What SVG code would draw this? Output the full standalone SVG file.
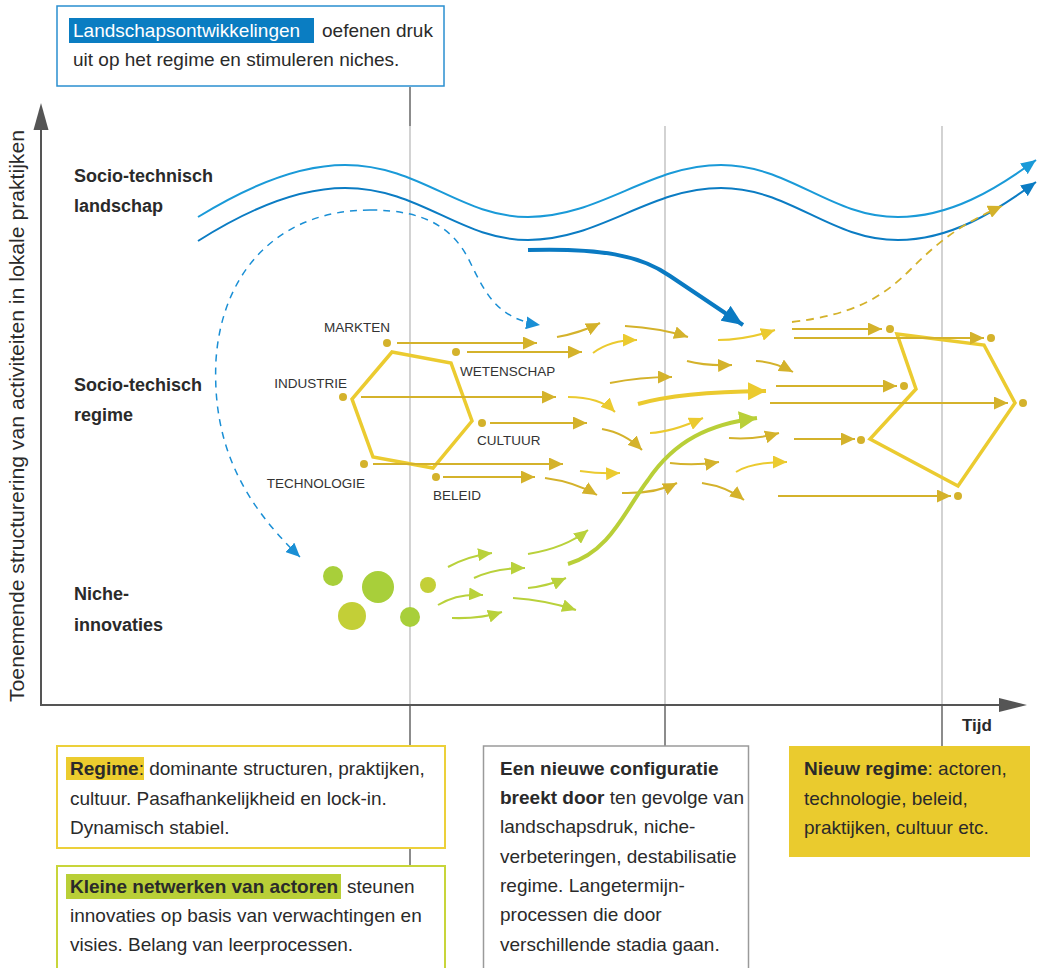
<svg xmlns="http://www.w3.org/2000/svg" width="1040" height="968" viewBox="0 0 1040 968">
<style>
text{font-family:"Liberation Sans",Arial,sans-serif;fill:#2a2a2a}
.b{font-weight:bold}
.t19{font-size:19px}
.lab{font-size:18px;font-weight:bold}
.cap{font-size:13.5px;fill:#333}
.d{fill:none;stroke:#d4b22b;stroke-width:2}
.l{fill:none;stroke:#ebca2f;stroke-width:2}
.g{fill:none;stroke:#b9d13b;stroke-width:2}
.dot{fill:#d4b22b}
.grid{stroke:#b5b5b5;stroke-width:1.2}
.tick{stroke:#666;stroke-width:1.5}
</style>
<defs>
<marker id="mD" markerUnits="userSpaceOnUse" markerWidth="14" markerHeight="13" refX="14" refY="6.5" orient="auto"><path d="M0,0L14,6.5L0,13z" fill="#d4b22b"/></marker>
<marker id="mL" markerUnits="userSpaceOnUse" markerWidth="14" markerHeight="13" refX="14" refY="6.5" orient="auto"><path d="M0,0L14,6.5L0,13z" fill="#ebca2f"/></marker>
<marker id="mG" markerUnits="userSpaceOnUse" markerWidth="14" markerHeight="13" refX="14" refY="6.5" orient="auto"><path d="M0,0L14,6.5L0,13z" fill="#b9d13b"/></marker>
<marker id="mB1" markerUnits="userSpaceOnUse" markerWidth="15" markerHeight="13" refX="15" refY="6.5" orient="auto"><path d="M0,0L15,6.5L0,13z" fill="#1a9ad8"/></marker>
<marker id="mB2" markerUnits="userSpaceOnUse" markerWidth="15" markerHeight="13" refX="15" refY="6.5" orient="auto"><path d="M0,0L15,6.5L0,13z" fill="#0b7cc3"/></marker>
<marker id="mBig" markerUnits="userSpaceOnUse" markerWidth="21" markerHeight="18" refX="21" refY="9" orient="auto"><path d="M0,0L21,9L0,18z" fill="#0a7ac2"/></marker>
<marker id="mY" markerUnits="userSpaceOnUse" markerWidth="18" markerHeight="18" refX="18" refY="9" orient="auto"><path d="M0,0L18,9L0,18z" fill="#ebca2f"/></marker>
<marker id="mGG" markerUnits="userSpaceOnUse" markerWidth="18" markerHeight="18" refX="18" refY="9" orient="auto"><path d="M0,0L18,9L0,18z" fill="#b9cf38"/></marker>
<marker id="mDash" markerUnits="userSpaceOnUse" markerWidth="14" markerHeight="13" refX="14" refY="6.5" orient="auto"><path d="M0,0L14,6.5L0,13z" fill="#1a8fd5"/></marker>
</defs>
<rect width="1040" height="968" fill="#fff"/>

<g id="grid">
<line class="tick" x1="410" y1="87" x2="410" y2="126"/>
<line class="grid" x1="410" y1="126" x2="410" y2="705"/>
<line class="tick" x1="410" y1="705" x2="410" y2="746"/>
<line class="tick" x1="410" y1="848" x2="410" y2="866"/>
<line class="grid" x1="665" y1="126" x2="665" y2="705"/>
<line class="tick" x1="665" y1="705" x2="665" y2="746"/>
<line class="grid" x1="942" y1="126" x2="942" y2="705"/>
<line class="tick" x1="942" y1="705" x2="942" y2="746"/>
</g>

<g id="axes">
<line x1="41" y1="128" x2="41" y2="706" stroke="#555" stroke-width="2"/>
<polygon points="41,103 48.5,130 33.5,130" fill="#555"/>
<line x1="40" y1="705" x2="1001" y2="705" stroke="#555" stroke-width="2"/>
<polygon points="1027,705 999,698 999,712" fill="#555"/>
<text transform="translate(24,416) rotate(-90)" text-anchor="middle" font-size="20" textLength="572" lengthAdjust="spacingAndGlyphs" fill="#333">Toenemende structurering van activiteiten in lokale praktijken</text>
<text x="962" y="731" class="b" font-size="17">Tijd</text>
</g>

<g id="level-labels">
<text class="lab" x="74" y="182">Socio-technisch</text>
<text class="lab" x="74" y="212">landschap</text>
<text class="lab" x="74" y="391">Socio-techisch</text>
<text class="lab" x="74" y="421">regime</text>
<text class="lab" x="74" y="600">Niche-</text>
<text class="lab" x="74" y="631">innovaties</text>
</g>

<g id="landscape">
<path d="M198,217 C250,185 300,165 345,165 C420,165 460,217 528,217 C600,217 650,165 721,165 C790,165 830,217 898,217 C950,217 995,190 1036,160" fill="none" stroke="#1a9ad8" stroke-width="2" marker-end="url(#mB1)"/>
<path d="M198,241 C250,208 300,188 345,188 C420,188 460,240 528,240 C600,240 650,188 721,188 C790,188 830,240 898,240 C950,240 995,212 1036,182" fill="none" stroke="#0b7cc3" stroke-width="2" marker-end="url(#mB2)"/>
</g>

<g id="regime">
<polygon points="392,352 451,363 472,421 433,468 373,457 352,399" fill="none" stroke="#ebcb30" stroke-width="3.5" stroke-linejoin="miter"/>
<circle class="dot" cx="387" cy="343" r="4"/>
<circle class="dot" cx="456" cy="352" r="4"/>
<circle class="dot" cx="343" cy="397" r="4"/>
<circle class="dot" cx="482" cy="423" r="4"/>
<circle class="dot" cx="364" cy="464" r="4"/>
<circle class="dot" cx="436" cy="477" r="4"/>
<text class="cap" x="390" y="332" text-anchor="end">MARKTEN</text>
<text class="cap" x="460" y="376">WETENSCHAP</text>
<text class="cap" x="347" y="388" text-anchor="end">INDUSTRIE</text>
<text class="cap" x="477" y="445">CULTUUR</text>
<text class="cap" x="365" y="488" text-anchor="end">TECHNOLOGIE</text>
<text class="cap" x="433" y="500">BELEID</text>
</g>

<g id="new-regime">
<polygon points="897,334 984,345 1015,403 958,486 870,439 916,389" fill="none" stroke="#ebcb30" stroke-width="3.5"/>
<circle class="dot" cx="890" cy="329" r="4"/>
<circle class="dot" cx="991" cy="338" r="4"/>
<circle class="dot" cx="904" cy="386" r="4"/>
<circle class="dot" cx="1023" cy="403" r="4"/>
<circle class="dot" cx="861" cy="440" r="4"/>
<circle class="dot" cx="958" cy="496" r="4"/>
</g>

<g id="niches">
<circle cx="333" cy="576" r="10" fill="#a8cf3a"/>
<circle cx="378" cy="587" r="16" fill="#a8cf3a"/>
<circle cx="352" cy="616" r="14" fill="#c3cf37"/>
<circle cx="428" cy="585" r="8" fill="#c3cf37"/>
<circle cx="410" cy="617" r="10" fill="#a8cf3a"/>
</g>

<g id="connectors">
<path d="M370,210 C280,210 222,270 216,360 C212,440 240,500 300,557" fill="none" stroke="#1a8fd5" stroke-width="1.5" stroke-dasharray="7,6" marker-end="url(#mDash)"/>
<path d="M370,210 C425,210 452,228 468,258 C485,292 495,318 540,325" fill="none" stroke="#1a8fd5" stroke-width="1.5" stroke-dasharray="7,6" marker-end="url(#mDash)"/>
<path d="M528,250 C600,248 640,255 670,276 L743,325" fill="none" stroke="#0a7ac2" stroke-width="4" marker-end="url(#mBig)"/>
<path d="M792,322 C850,315 880,300 910,270 C940,240 960,225 1002,206" fill="none" stroke="#d4b22b" stroke-width="1.8" stroke-dasharray="8,6" marker-end="url(#mD)"/>
<line class="d" x1="397" y1="343" x2="537" y2="343" marker-end="url(#mD)"/>
<line class="d" x1="467" y1="352" x2="582" y2="352" marker-end="url(#mD)"/>
<line class="d" x1="361" y1="397" x2="556" y2="397" marker-end="url(#mD)"/>
<line class="d" x1="490" y1="423" x2="587" y2="423" marker-end="url(#mD)"/>
<line class="d" x1="373" y1="464" x2="563" y2="464" marker-end="url(#mD)"/>
<line class="d" x1="443" y1="477" x2="535" y2="477" marker-end="url(#mD)"/>
<path class="d" d="M557,337 Q580,333 600,323" marker-end="url(#mD)"/>
<path class="l" d="M593,353 Q610,340 637,340" marker-end="url(#mL)"/>
<path class="d" d="M625,326 Q660,328 688,337" marker-end="url(#mD)"/>
<path class="d" d="M610,383 Q640,377 672,377" marker-end="url(#mD)"/>
<path class="l" d="M568,397 Q600,397 615,412" marker-end="url(#mL)"/>
<path class="d" d="M602,429 Q625,433 642,450" marker-end="url(#mD)"/>
<path class="l" d="M650,433 Q672,432 703,418" marker-end="url(#mL)"/>
<path class="l" d="M580,471 Q600,474 620,473" marker-end="url(#mL)"/>
<path class="d" d="M545,478 Q575,482 597,495" marker-end="url(#mD)"/>
<path class="d" d="M622,493 Q655,494 677,483" marker-end="url(#mD)"/>
<path class="d" d="M670,463 Q695,466 719,462" marker-end="url(#mD)"/>
<path class="d" d="M702,483 Q728,487 744,500" marker-end="url(#mD)"/>
<path class="d" d="M687,361 Q705,366 732,365" marker-end="url(#mD)"/>
<path class="l" d="M718,340 Q745,340 775,330" marker-end="url(#mL)"/>
<path class="d" d="M756,361 Q775,362 793,372" marker-end="url(#mD)"/>
<path class="d" d="M729,438 Q755,440 779,433" marker-end="url(#mD)"/>
<path class="l" d="M736,472 Q752,462 787,462" marker-end="url(#mL)"/>
<path d="M638,404 Q680,392 766,391" fill="none" stroke="#ebca2f" stroke-width="4" marker-end="url(#mY)"/>
<line class="d" x1="792" y1="329" x2="882" y2="329" marker-end="url(#mD)"/>
<line class="d" x1="794" y1="338" x2="984" y2="338" marker-end="url(#mD)"/>
<line class="d" x1="776" y1="386" x2="897" y2="386" marker-end="url(#mD)"/>
<line class="d" x1="770" y1="403" x2="1008" y2="403" marker-end="url(#mD)"/>
<line class="d" x1="794" y1="439" x2="855" y2="439" marker-end="url(#mD)"/>
<line class="d" x1="778" y1="496" x2="951" y2="496" marker-end="url(#mD)"/>
<path class="g" d="M448,567 Q468,556 492,553" marker-end="url(#mG)"/>
<path class="g" d="M474,578 Q495,568 525,568" marker-end="url(#mG)"/>
<path class="g" d="M438,605 Q458,593 483,595" marker-end="url(#mG)"/>
<path class="g" d="M452,618 Q480,619 502,612" marker-end="url(#mG)"/>
<path class="g" d="M528,554 Q565,548 588,530" marker-end="url(#mG)"/>
<path class="g" d="M528,588 Q548,586 566,578" marker-end="url(#mG)"/>
<path class="g" d="M513,598 Q545,600 576,610" marker-end="url(#mG)"/>
<path d="M568,564 C610,552 625,510 648,480 C675,440 710,424 757,418" fill="none" stroke="#b9cf38" stroke-width="4" marker-end="url(#mGG)"/>
</g>

<g id="box-landscape">
<rect x="57" y="6" width="387" height="80" fill="#fff" stroke="#2a8fd0" stroke-width="1.5"/>
<rect x="69" y="18" width="245" height="25" fill="#0a7dc2"/>
<text class="t19" x="73" y="37" style="fill:#fff">Landschapsontwikkelingen</text>
<text class="t19" x="322" y="37">oefenen druk</text>
<text class="t19" x="73" y="66">uit op het regime en stimuleren niches.</text>
</g>

<g id="box-regime">
<rect x="57" y="746" width="388" height="102" fill="#fff" stroke="#ecd03a" stroke-width="2"/>
<rect x="66" y="757" width="78" height="23" fill="#eccc2e"/>
<text class="t19" x="70" y="775"><tspan class="b">Regime</tspan>: dominante structuren, praktijken,</text>
<text class="t19" x="70" y="805">cultuur. Pasafhankelijkheid en lock-in.</text>
<text class="t19" x="70" y="834">Dynamisch stabiel.</text>
</g>

<g id="box-niche">
<rect x="57" y="866" width="388" height="112" fill="#fff" stroke="#c8d53a" stroke-width="2"/>
<rect x="66" y="874" width="275" height="25" fill="#b9cf37"/>
<text class="t19 b" x="70" y="893">Kleine netwerken van actoren</text>
<text class="t19" x="347" y="893">steunen</text>
<text class="t19" x="70" y="922">innovaties op basis van verwachtingen en</text>
<text class="t19" x="70" y="951">visies. Belang van leerprocessen.</text>
</g>

<g id="box-config">
<rect x="483.5" y="746" width="265" height="232" fill="#fff" stroke="#9a9a9a" stroke-width="1.5"/>
<text class="t19 b" x="500" y="775">Een nieuwe configuratie</text>
<text class="t19" x="500" y="804"><tspan class="b">breekt door</tspan> ten gevolge van</text>
<text class="t19" x="500" y="833">landschapsdruk, niche-</text>
<text class="t19" x="500" y="863">verbeteringen, destabilisatie</text>
<text class="t19" x="500" y="892">regime. Langetermijn-</text>
<text class="t19" x="500" y="921">processen die door</text>
<text class="t19" x="500" y="951">verschillende stadia gaan.</text>
</g>

<g id="box-new-regime">
<rect x="789" y="746" width="241" height="111" fill="#eacb2e"/>
<text class="t19" x="804" y="775"><tspan class="b">Nieuw regime</tspan>: actoren,</text>
<text class="t19" x="804" y="805">technologie, beleid,</text>
<text class="t19" x="804" y="834">praktijken, cultuur etc.</text>
</g>
</svg>
